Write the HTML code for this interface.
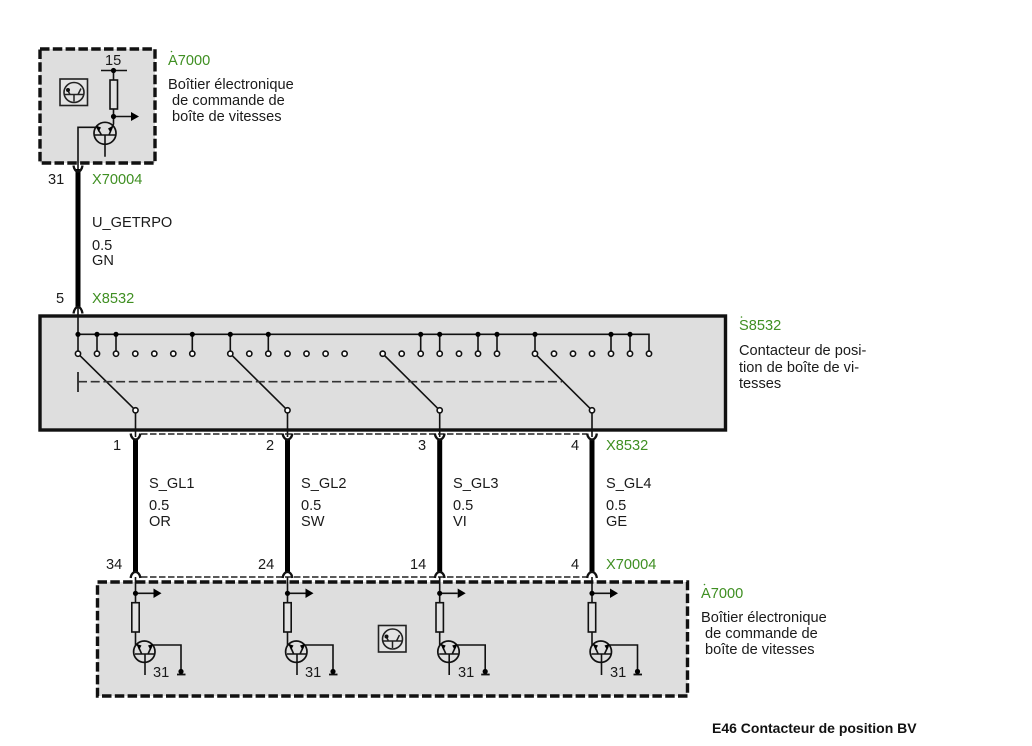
<!DOCTYPE html>
<html><head><meta charset="utf-8"><style>
html,body{margin:0;padding:0;background:#fff}
svg{display:block}
text{font-family:"Liberation Sans",sans-serif;font-size:14.6px;fill:#1a1a1a}
.g{fill:#3f8f22}
.b{font-weight:bold;font-size:14px;fill:#111}
</style></head><body>
<svg width="1032" height="746" viewBox="0 0 1032 746" xmlns="http://www.w3.org/2000/svg">
<defs>
<g id="c"><circle r="2.6" fill="#fff" stroke="#111" stroke-width="1.6"/></g>
<g id="d"><circle r="2.6" fill="#000"/></g>
<g id="icon" fill="none" stroke="#222">
<rect x="0" y="0" width="27.5" height="26.5" stroke-width="1.6" fill="#e4e4e4"/>
<circle cx="14" cy="13.5" r="10" stroke-width="1.6"/>
<path d="M4 15.5H24M14 15.5V22.5M7 10L10 15.5M21 9.5L18 15.5" stroke-width="1.5"/>
<circle cx="8" cy="11" r="2" fill="#111" stroke="none"/>
</g>
<g id="drv" fill="none" stroke="#111" stroke-width="1.6">
<path d="M0 577V603M0 632V644.5L2.2 645L6.2 654"/>
<rect x="-3.7" y="602.7" width="7.4" height="29.3" fill="#e2e2e2"/>
<path d="M0 593.3H18"/>
<path d="M18 588.5L26 593.3L18 598Z" fill="#000" stroke="none"/>
<circle cx="0" cy="593.3" r="2.6" fill="#000" stroke="none"/>
<circle cx="8.8" cy="651.7" r="10.7" stroke-width="1.7"/>
<path d="M-0.5 654H18.5M9.5 654V675M16.2 646L12.5 654M16.2 645H45.5V672"/>
<path d="M1 644L6 645.5L3.5 650Z" fill="#000" stroke="none"/>
<path d="M17.5 644L12.5 645.5L15 650Z" fill="#000" stroke="none"/>
<path d="M41.5 674.5H50" stroke-width="1.8"/>
<circle cx="45.5" cy="671.5" r="2.6" fill="#000" stroke="none"/>
</g>
</defs>

<!-- Top module -->
<rect x="40" y="49" width="115" height="114" fill="#dedede" stroke="#111" stroke-width="3.4" stroke-dasharray="9.5 3.3"/>
<use href="#icon" x="60" y="79"/>
<g fill="none" stroke="#111" stroke-width="1.6">
<path d="M101 70.5H127M113.5 70.5V80M113.5 109V124L109 135M113.5 116.5H131"/>
<rect x="110" y="80" width="7.5" height="29" fill="#e2e2e2"/>
<circle cx="105" cy="133.3" r="11" stroke-width="1.7"/>
<path d="M78 170V127.3H97L101.5 135M95 135H115M105 135V156.7"/>
</g>
<path d="M131 112L139 116.5L131 121Z" fill="#000"/>
<circle cx="113.5" cy="70.5" r="2.6" fill="#000"/>
<circle cx="113.5" cy="116.5" r="2.6" fill="#000"/>
<path d="M96 125.5L101 127.5L98.5 132Z" fill="#000"/>
<path d="M112.5 126L108 128.5L110.5 132.5Z" fill="#000"/>
<text x="105" y="65">15</text>
<text x="168" y="65" class="g">A7000</text><circle cx="171.5" cy="51.5" r="0.8" fill="#3f8f22"/>
<text x="168" y="89">Boîtier électronique</text>
<text x="172" y="105">de commande de</text>
<text x="172" y="121">boîte de vitesses</text>

<!-- Top wire -->
<path d="M78 169V307" stroke="#000" stroke-width="5" fill="none"/>
<path d="M73.5 165.5C74 169.5 76 171.5 78 171.5C80 171.5 82 169.5 82.5 165.5" fill="none" stroke="#111" stroke-width="2.3"/>
<path d="M73.5 313.5C74 309.5 76 307 78 307C80 307 82 309.5 82.5 313.5" fill="none" stroke="#111" stroke-width="2.3"/>
<text x="48" y="184">31</text>
<text x="92" y="184" class="g">X70004</text>
<text x="92" y="227">U_GETRPO</text>
<text x="92" y="250">0.5</text>
<text x="92" y="265">GN</text>
<text x="56" y="303">5</text>
<text x="92" y="303" class="g">X8532</text>

<!-- Switch -->
<rect x="40" y="316" width="685.5" height="114" fill="#dedede" stroke="#111" stroke-width="3.4"/>
<g fill="none" stroke="#111" stroke-width="1.6">
<path d="M78 307V354M78 334.3H649V354M97 334.3V354M116 334.3V354M192.3 334.3V354M230.3 334.3V354M268.3 334.3V354M420.7 334.3V354M439.7 334.3V354M478 334.3V354M497 334.3V354M535 334.3V354M611 334.3V354M630 334.3V354"/>
<path d="M78 353.7L135.5 410.3V437M230.3 353.7L287.5 410.3V437M382.7 353.7L439.7 410.3V437M535 353.7L592 410.3V437"/>
<path d="M78 372V392"/>
</g>
<path d="M78 381.7H562" stroke="#333" stroke-width="1.7" stroke-dasharray="9 3.7" fill="none"/>
<g>
<use href="#d" x="78" y="334.3"/><use href="#d" x="97" y="334.3"/><use href="#d" x="116" y="334.3"/><use href="#d" x="192.3" y="334.3"/><use href="#d" x="230.3" y="334.3"/><use href="#d" x="268.3" y="334.3"/><use href="#d" x="420.7" y="334.3"/><use href="#d" x="439.7" y="334.3"/><use href="#d" x="478" y="334.3"/><use href="#d" x="497" y="334.3"/><use href="#d" x="535" y="334.3"/><use href="#d" x="611" y="334.3"/><use href="#d" x="630" y="334.3"/>
<use href="#c" x="78" y="353.7"/><use href="#c" x="97" y="353.7"/><use href="#c" x="116" y="353.7"/><use href="#c" x="135.3" y="353.7"/><use href="#c" x="154.3" y="353.7"/><use href="#c" x="173.3" y="353.7"/><use href="#c" x="192.3" y="353.7"/>
<use href="#c" x="230.3" y="353.7"/><use href="#c" x="249.3" y="353.7"/><use href="#c" x="268.3" y="353.7"/><use href="#c" x="287.5" y="353.7"/><use href="#c" x="306.5" y="353.7"/><use href="#c" x="325.6" y="353.7"/><use href="#c" x="344.6" y="353.7"/>
<use href="#c" x="382.7" y="353.7"/><use href="#c" x="401.7" y="353.7"/><use href="#c" x="420.7" y="353.7"/><use href="#c" x="439.7" y="353.7"/><use href="#c" x="459" y="353.7"/><use href="#c" x="478" y="353.7"/><use href="#c" x="497" y="353.7"/>
<use href="#c" x="535" y="353.7"/><use href="#c" x="554" y="353.7"/><use href="#c" x="573" y="353.7"/><use href="#c" x="592" y="353.7"/><use href="#c" x="611" y="353.7"/><use href="#c" x="630" y="353.7"/><use href="#c" x="649" y="353.7"/>
<use href="#c" x="135.5" y="410.3"/><use href="#c" x="287.5" y="410.3"/><use href="#c" x="439.7" y="410.3"/><use href="#c" x="592" y="410.3"/>
</g>
<text x="739" y="330" class="g">S8532</text><circle cx="741.5" cy="317" r="0.8" fill="#3f8f22"/>
<text x="739" y="355">Contacteur de posi-</text>
<text x="739" y="372">tion de boîte de vi-</text>
<text x="739" y="388">tesses</text>

<!-- Connector dashed lines -->
<path d="M141 434H587" stroke="#222" stroke-width="1.4" stroke-dasharray="6.5 2.5" fill="none"/>
<path d="M141 577H587" stroke="#222" stroke-width="1.4" stroke-dasharray="6.5 2.5" fill="none"/>

<!-- Wires -->
<g fill="none">
<path d="M135.5 439V573M287.5 439V573M439.7 439V573M592 439V573" stroke="#000" stroke-width="5"/>
<g stroke="#111" stroke-width="2.3">
<path d="M130.7 433.5C131 437.5 133.5 439.5 135.5 439.5C137.5 439.5 140 437.5 140.3 433.5"/>
<path d="M282.7 433.5C283 437.5 285.5 439.5 287.5 439.5C289.5 439.5 292 437.5 292.3 433.5"/>
<path d="M434.9 433.5C435.2 437.5 437.7 439.5 439.7 439.5C441.7 439.5 444.2 437.5 444.5 433.5"/>
<path d="M587.2 433.5C587.5 437.5 590 439.5 592 439.5C594 439.5 596.5 437.5 596.8 433.5"/>
<path d="M130.7 578C131 574 133.5 572 135.5 572C137.5 572 140 574 140.3 578"/>
<path d="M282.7 578C283 574 285.5 572 287.5 572C289.5 572 292 574 292.3 578"/>
<path d="M434.9 578C435.2 574 437.7 572 439.7 572C441.7 572 444.2 574 444.5 578"/>
<path d="M587.2 578C587.5 574 590 572 592 572C594 572 596.5 574 596.8 578"/>
</g>
</g>
<text x="113" y="450">1</text><text x="266" y="450">2</text><text x="418" y="450">3</text><text x="571" y="450">4</text>
<text x="606" y="450" class="g">X8532</text>
<text x="149" y="488">S_GL1</text><text x="149" y="510">0.5</text><text x="149" y="526">OR</text>
<text x="301" y="488">S_GL2</text><text x="301" y="510">0.5</text><text x="301" y="526">SW</text>
<text x="453" y="488">S_GL3</text><text x="453" y="510">0.5</text><text x="453" y="526">VI</text>
<text x="606" y="488">S_GL4</text><text x="606" y="510">0.5</text><text x="606" y="526">GE</text>
<text x="106" y="569">34</text><text x="258" y="569">24</text><text x="410" y="569">14</text><text x="571" y="569">4</text>
<text x="606" y="569" class="g">X70004</text>

<!-- Bottom module -->
<rect x="97.5" y="582" width="590" height="114" fill="#dedede" stroke="#111" stroke-width="3.4" stroke-dasharray="9.5 3.3"/>
<use href="#drv" x="135.5"/><use href="#drv" x="287.5"/><use href="#drv" x="439.7"/><use href="#drv" x="592"/>
<use href="#icon" x="378.5" y="625.5"/>
<text x="153" y="677">31</text><text x="305" y="677">31</text><text x="458" y="677">31</text><text x="610" y="677">31</text>
<text x="701" y="598" class="g">A7000</text><circle cx="704.5" cy="584.5" r="0.8" fill="#3f8f22"/>
<text x="701" y="622">Boîtier électronique</text>
<text x="705" y="638">de commande de</text>
<text x="705" y="654">boîte de vitesses</text>

<text x="712" y="733" class="b">E46 Contacteur de position BV</text>
</svg>
</body></html>
